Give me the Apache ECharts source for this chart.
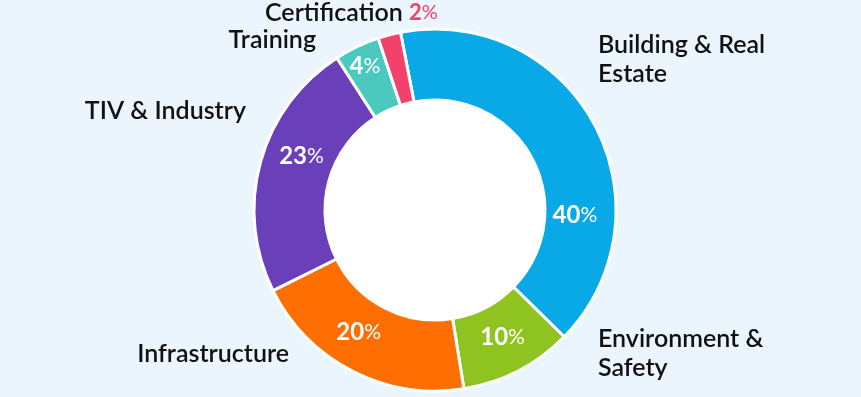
<!DOCTYPE html>
<html>
<head>
<meta charset="utf-8">
<script src="https://cdn.jsdelivr.net/npm/echarts@6/dist/echarts.min.js"></script>
<style>
html,body{margin:0;padding:0;background:#EBF5FD;}
#chart{width:861px;height:397px;}
</style>
</head>
<body>
<div id="chart"></div>
<script>
// ---- data ----
const categories = ['Building & Real Estate', 'Environment & Safety', 'Infrastructure', 'TIV & Industry', 'Training', 'Certification'];
const values = [40, 10, 20, 23, 4, 2];
const displayNames = ['Building & Real\nEstate', 'Environment &\nSafety', 'Infrastructure', 'TIV & Industry', 'Training', 'Certification'];
const colors = ['#08A9E6', '#8FC31F', '#FF6E00', '#6A3FBA', '#4CC9BF', '#F2416B'];

// ---- layout (not data) ----
const CX = 435, CY = 210, R_IN = 110, R_OUT = 181;
// label angle measured clockwise from 12 o'clock (degrees) and distance from centre
const labelAngles = [92, 152, 212, 292, 334, null];
const labelRadii = [140, 144, 144, 144, 160, null];
const namePos = [
  {x: 598, y: 59, align: 'left'},
  {x: 598, y: 353, align: 'left'},
  {x: 289, y: 354, align: 'right'},
  {x: 246, y: 111, align: 'right'},
  {x: 316, y: 40, align: 'right'},
  {x: 265, y: 13, align: 'left'}
];
const outsideValue = [false, false, false, false, false, true];

const FONT = 'Lato';
const NAME_SIZE = 25;
const NAME_WEIGHT = 600;
const chart = echarts.init(document.getElementById('chart'), null, {renderer: 'canvas'});

const pieData = categories.map((c, i) => ({
  name: c,
  value: values[i],
  itemStyle: {color: colors[i]},
  label: {show: !outsideValue[i]}
}));

const graphics = categories.map((c, i) => {
  const p = namePos[i];
  let text = displayNames[i];
  if (outsideValue[i]) {
    text = '{n|' + displayNames[i] + '} {v|' + values[i] + '}{p|%}';
  }
  return {
    type: 'text',
    x: p.x, y: p.y,
    silent: true,
    style: {
      text: text,
      align: p.align,
      verticalAlign: 'middle',
      fill: '#111111',
      font: NAME_WEIGHT + ' ' + NAME_SIZE + 'px ' + FONT,
      lineHeight: 29,
      rich: {
        n: {fontFamily: FONT, fontSize: NAME_SIZE, fontWeight: NAME_WEIGHT, fill: '#111111', color: '#111111'},
        v: {fontFamily: FONT, fontSize: 22, fontWeight: 'bold', color: colors[i], fill: colors[i]},
        p: {fontFamily: FONT, fontSize: 20, fontWeight: 'normal', color: colors[i], fill: colors[i]}
      }
    }
  };
});

chart.setOption({
  backgroundColor: '#EBF5FD',
  animation: false,
  series: [
    {
      type: 'pie',
      silent: true,
      center: [CX, CY],
      radius: [0, R_IN],
      z: 1,
      label: {show: false},
      labelLine: {show: false},
      data: [{value: 1, itemStyle: {color: '#FFFFFF'}}]
    },
    {
      type: 'pie',
      center: [CX, CY],
      radius: [R_IN, R_OUT],
      startAngle: 101,
      clockwise: true,
      z: 2,
      avoidLabelOverlap: false,
      itemStyle: {borderColor: '#FFFFFF', borderWidth: 3},
      label: {
        position: 'inside',
        formatter: p => '{v|' + p.value + '}{p|%}',
        rich: {
          v: {fontFamily: FONT, fontSize: 24, fontWeight: 'bold', color: '#FFFFFF'},
          p: {fontFamily: FONT, fontSize: 21, fontWeight: 'normal', color: '#FFFFFF'}
        }
      },
      labelLayout: params => {
        const a = labelAngles[params.dataIndex];
        if (a == null) return {};
        const r = labelRadii[params.dataIndex];
        const rad = a * Math.PI / 180;
        return {
          x: CX + r * Math.sin(rad),
          y: CY - r * Math.cos(rad),
          align: 'center',
          verticalAlign: 'middle'
        };
      },
      labelLine: {show: false},
      data: pieData
    }
  ],
  graphic: graphics
});
</script>
</body>
</html>
